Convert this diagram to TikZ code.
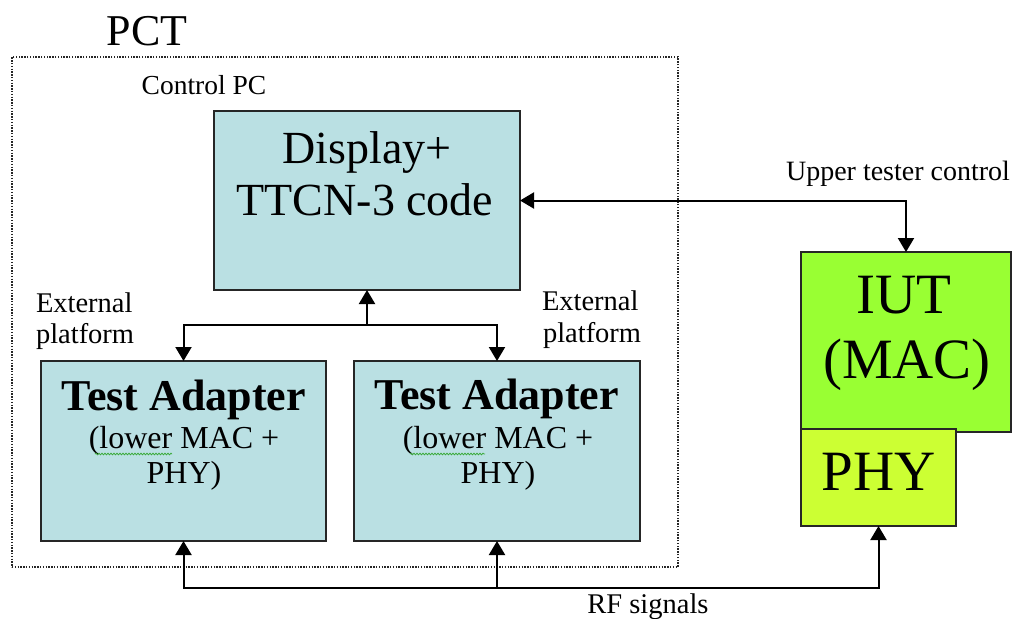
\documentclass[tikz,border=0pt]{standalone}
\usepackage{fontspec}
\setmainfont{Liberation Serif}
\usetikzlibrary{arrows.meta,decorations.pathmorphing}
\definecolor{boxcyan}{HTML}{BAE0E3}
\definecolor{iutgreen}{HTML}{99FF33}
\definecolor{phygreen}{HTML}{CCFF33}
\definecolor{spellgreen}{HTML}{3BAA3B}
\newcommand{\fsz}[1]{\fontsize{#1}{#1}\selectfont}
\tikzset{
  box/.style={draw=black!85, line width=2pt, inner sep=0pt, outer sep=0pt},
  frame/.style={draw=black!85, line width=1.6pt, dash pattern=on 1.4pt off 1.4pt, inner sep=0pt, outer sep=0pt},
  conn/.style={draw=black, line width=2pt, -{Triangle[length=14pt,width=16pt]}},
  biconn/.style={draw=black, line width=2pt, {Triangle[length=14pt,width=16pt]}-{Triangle[length=14pt,width=16pt]}},
  lbl/.style={inner sep=0pt, outer sep=0pt, anchor=base},
  lblw/.style={inner sep=0pt, outer sep=0pt, anchor=base west},
  spell/.style={draw=spellgreen, line width=0.8pt, decorate, decoration={snake, amplitude=0.8pt, segment length=3pt}},
}
\begin{document}
\begin{tikzpicture}[x=1pt,y=-1pt]
\useasboundingbox (0,0) rectangle (1021,619);

% frame
\node[frame, minimum width=666pt, minimum height=510pt] (pctframe) at (345,312) {};
\node[lbl, font=\fsz{44}] (pct) at (147,45) {PCT};
\node[lbl, font=\fsz{27.5}] (ctrlpc) at (204,94) {Control PC};

% boxes
\node[box, fill=boxcyan, minimum width=306pt, minimum height=179pt] (disp) at (367,200.5) {};
\node[box, fill=boxcyan, minimum width=285pt, minimum height=180pt] (ta1) at (183.5,451) {};
\node[box, fill=boxcyan, minimum width=286pt, minimum height=180pt] (ta2) at (497,451) {};
\node[box, fill=iutgreen, minimum width=210pt, minimum height=180pt] (iut) at (906,342) {};
\node[box, fill=phygreen, minimum width=155pt, minimum height=97pt] (phy) at (878.5,477.5) {};

% box texts
\node[lbl, font=\fsz{46}] (d1) at (367,163) {Display+};
\node[lbl, font=\fsz{46}] (d2) at (365,215) {TTCN-3 code};

\node[lbl, font=\bfseries\fsz{44}] (ta1a) at (184,410) {Test Adapter};
\node[lbl, font=\fsz{32}] (ta1b) at (184,448) {(lower MAC +};
\node[lbl, font=\fsz{32}] (ta1c) at (184,483) {PHY)};
\node[lbl, font=\bfseries\fsz{44}] (ta2a) at (497,409) {Test Adapter};
\node[lbl, font=\fsz{32}] (ta2b) at (498,448) {(lower MAC +};
\node[lbl, font=\fsz{32}] (ta2c) at (498,483) {PHY)};
\draw[spell] (95,454) -- (172,454);
\draw[spell] (410,454) -- (485,454);

\node[lbl, font=\fsz{57}] (iut1) at (904,313) {IUT};
\node[lbl, font=\fsz{57}] (iut2) at (907,378) {(MAC)};
\node[lbl, font=\fsz{57}] (phyt) at (878.5,490) {PHY};

% side labels
\node[lblw, font=\fsz{28.5}] (ext1a) at (36,312) {External};
\node[lblw, font=\fsz{28.5}] (ext1b) at (36,343) {platform};
\node[lblw, font=\fsz{28.5}] (ext2a) at (542,310) {External};
\node[lblw, font=\fsz{28.5}] (ext2b) at (543,342) {platform};
\node[lbl, font=\fsz{28}] (utc) at (898,180) {Upper tester control};
\node[lbl, font=\fsz{28.5}] (rfs) at (648,613) {RF signals};

% connectors
\draw[biconn] (disp.east) -| (iut.north);
\coordinate (br) at (367,325);
\draw[conn] (br) -- (disp.south);
\draw[conn] (br) -| (ta1.north);
\draw[conn] (br) -| (ta2.north);
\coordinate (rf) at (497,588);
\draw[conn] (rf) -| (ta1.south);
\draw[conn] (rf) -- (ta2.south);
\draw[conn] (rf) -| (phy.south);
\end{tikzpicture}
\end{document}
